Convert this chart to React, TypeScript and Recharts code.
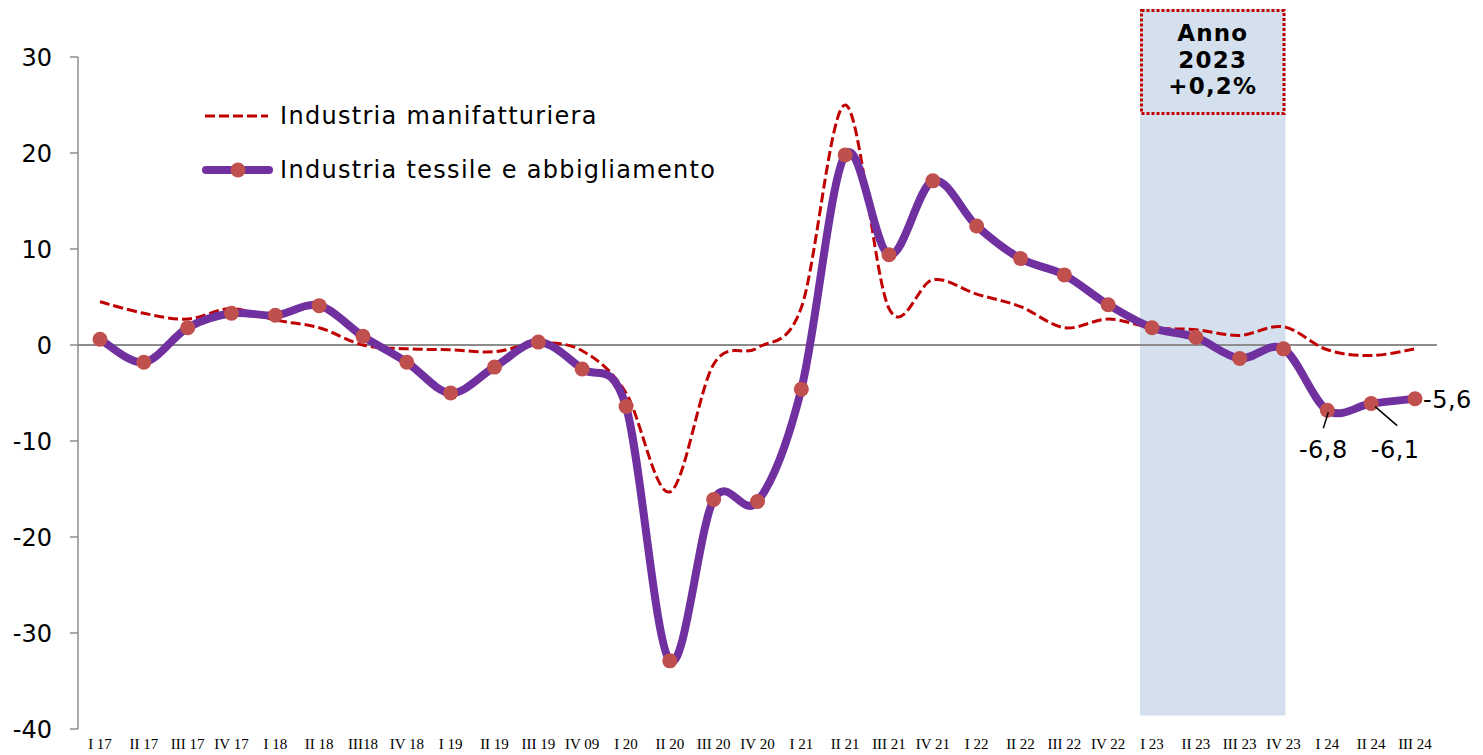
import React from 'react';
import { LineChart, Line, XAxis, YAxis, ReferenceLine, ReferenceArea, LabelList } from 'recharts';

const categories = ["I 17","II 17","III 17","IV 17","I 18","II 18","III18","IV 18","I 19","II 19","III 19","IV 09","I 20","II 20","III 20","IV 20","I 21","II 21","III 21","IV 21","I 22","II 22","III 22","IV 22","I 23","II 23","III 23","IV 23","I 24","II 24","III 24"];

const manifatturiera = [4.5,3.3,2.7,3.8,2.6,1.8,0.0,-0.4,-0.5,-0.7,0.2,-0.6,-5.0,-15.3,-2.0,-0.3,3.9,25.0,3.8,6.8,5.3,4.0,1.8,2.7,1.8,1.6,1.0,1.9,-0.5,-1.1,-0.4];

const tessile = [0.6,-1.8,1.8,3.3,3.1,4.1,0.9,-1.8,-5.0,-2.3,0.3,-2.5,-6.4,-32.9,-16.1,-16.3,-4.6,19.8,9.4,17.1,12.4,9.0,7.3,4.2,1.8,0.8,-1.4,-0.4,-6.8,-6.1,-5.6];

const yTicks = [-40,-30,-20,-10,0,10,20,30];

const seriesNames = ["Industria manifatturiera", "Industria tessile e abbigliamento"];
const boxLines = ["Anno", "2023", "+0,2%"];
const highlight = { from: "I 23", to: "IV 23", low: -38.6, high: 35 };

const data = categories.map((c, i) => ({ cat: c, man: manifatturiera[i], tes: tessile[i] }));

// Excel-like smoothing (Catmull-Rom through the points)
const excelCurve = (context: any) => {
  let pts: number[][] = [];
  return {
    areaStart() {},
    areaEnd() {},
    lineStart() { pts = []; },
    point(x: number, y: number) { pts.push([+x, +y]); },
    lineEnd() {
      const n = pts.length;
      if (!n) return;
      context.moveTo(pts[0][0], pts[0][1]);
      for (let i = 0; i < n - 1; i++) {
        const p0 = pts[i - 1] || pts[i];
        const p1 = pts[i];
        const p2 = pts[i + 1];
        const p3 = pts[i + 2] || pts[i + 1];
        const c1x = p1[0] + (p2[0] - p0[0]) / 6;
        const c1y = p1[1] + (p2[1] - p0[1]) / 6;
        const c2x = p2[0] - (p3[0] - p1[0]) / 6;
        const c2y = p2[1] - (p3[1] - p1[1]) / 6;
        context.bezierCurveTo(c1x, c1y, c2x, c2y, p2[0], p2[1]);
      }
    },
  };
};

const FONT = '"DejaVu Sans", Verdana, sans-serif';

const labelIdx = [28, 29, 30];

const EndLabel = (props: any) => {
  const { x, y, index, value } = props;
  if (!labelIdx.includes(index)) return null;
  const txt = String(value).replace('.', ',');
  if (index === 30) {
    return <text x={x + 8} y={y} dy={9} fontSize={24} letterSpacing={0.5} fontFamily={FONT} fill="#000">{txt}</text>;
  }
  if (index === 28) {
    return (
      <g>
        <line x1={x + 1} y1={y + 2} x2={x - 4} y2={y + 18} stroke="#000" strokeWidth={1.5} />
        <text x={x - 4} y={y + 48} textAnchor="middle" fontSize={24} letterSpacing={0.5} fontFamily={FONT} fill="#000">{txt}</text>
      </g>
    );
  }
  return (
    <g>
      <line x1={x + 4} y1={y + 3} x2={x + 26} y2={y + 22} stroke="#000" strokeWidth={1.5} />
      <text x={x + 24} y={y + 54} textAnchor="middle" fontSize={24} letterSpacing={0.5} fontFamily={FONT} fill="#000">{txt}</text>
    </g>
  );
};

const BandShape = (props: any) => {
  const { x, y, width, height } = props;
  const pad = 12;
  const bx = x - pad;
  const bw = width + pad + 2;
  const boxH = 103;
  const cx = bx + bw / 2;
  return (
    <g>
      <rect x={bx} y={y} width={bw} height={height} fill="#D5E0EE" />
      <rect x={bx + 1.5} y={y + 1.5} width={bw - 3} height={boxH} fill="none" stroke="#C00000" strokeWidth={3} strokeDasharray="3 2" />
      {boxLines.map((t, i) => (
        <text key={i} x={cx} y={y + 32 + i * 26.5} textAnchor="middle" fontSize={23} letterSpacing={1.2} fontWeight="bold" fontFamily={FONT} fill="#000">{t}</text>
      ))}
    </g>
  );
};

const XTick = (props: any) => {
  const { x, y, payload } = props;
  return (
    <text x={x} y={y} dy={12} textAnchor="middle" fontSize={15} fontFamily='"Liberation Serif", "Times New Roman", serif' fill="#000">{payload.value}</text>
  );
};

export default function App() {
  return (
    <div style={{ position: 'absolute', left: 0, top: 0, width: 1483, height: 755, background: '#fff' }}>
      <LineChart width={1483} height={755} data={data} margin={{ top: 57, right: 46, bottom: 0, left: 18 }}>
        <ReferenceArea x1={highlight.from} x2={highlight.to} y1={highlight.low} y2={highlight.high} ifOverflow="visible" shape={<BandShape />} />
        <XAxis dataKey="cat" axisLine={false} tickLine={false} interval={0} height={26} padding={{ left: 22, right: 22 }} tick={<XTick />} />
        <YAxis domain={[-40, 30]} ticks={yTicks} width={60} tickSize={8} tickMargin={18}
          axisLine={{ stroke: '#8c8c8c', strokeWidth: 1.5 }} tickLine={{ stroke: '#8c8c8c', strokeWidth: 1.5 }}
          tick={{ fontSize: 24, fontFamily: FONT, fill: '#000' }} />
        <ReferenceLine y={0} stroke="#8c8c8c" strokeWidth={2} />
        <Line dataKey="man" type={excelCurve as any} stroke="#C00000" strokeWidth={3} strokeDasharray="10 4" dot={false} isAnimationActive={false} />
        <Line dataKey="tes" type={excelCurve as any} stroke="#7030A0" strokeWidth={8} strokeLinecap="round"
          dot={{ r: 7.5, fill: '#C0504D', stroke: 'none' }} activeDot={false} isAnimationActive={false}>
          <LabelList dataKey="tes" content={<EndLabel />} />
        </Line>
      </LineChart>
      <svg width={1483} height={755} style={{ position: 'absolute', left: 0, top: 0, pointerEvents: 'none' }}>
        <line x1={205} y1={116} x2={268} y2={116} stroke="#C00000" strokeWidth={3} strokeDasharray="10 4" />
        <text x={280} y={124} fontSize={24} letterSpacing={1.3} fontFamily={FONT} fill="#000">{seriesNames[0]}</text>
        <line x1={206} y1={170} x2={269} y2={170} stroke="#7030A0" strokeWidth={8} strokeLinecap="round" />
        <circle cx={238} cy={170} r={7.5} fill="#C0504D" />
        <text x={280} y={178} fontSize={24} letterSpacing={1.3} fontFamily={FONT} fill="#000">{seriesNames[1]}</text>
      </svg>
    </div>
  );
}
